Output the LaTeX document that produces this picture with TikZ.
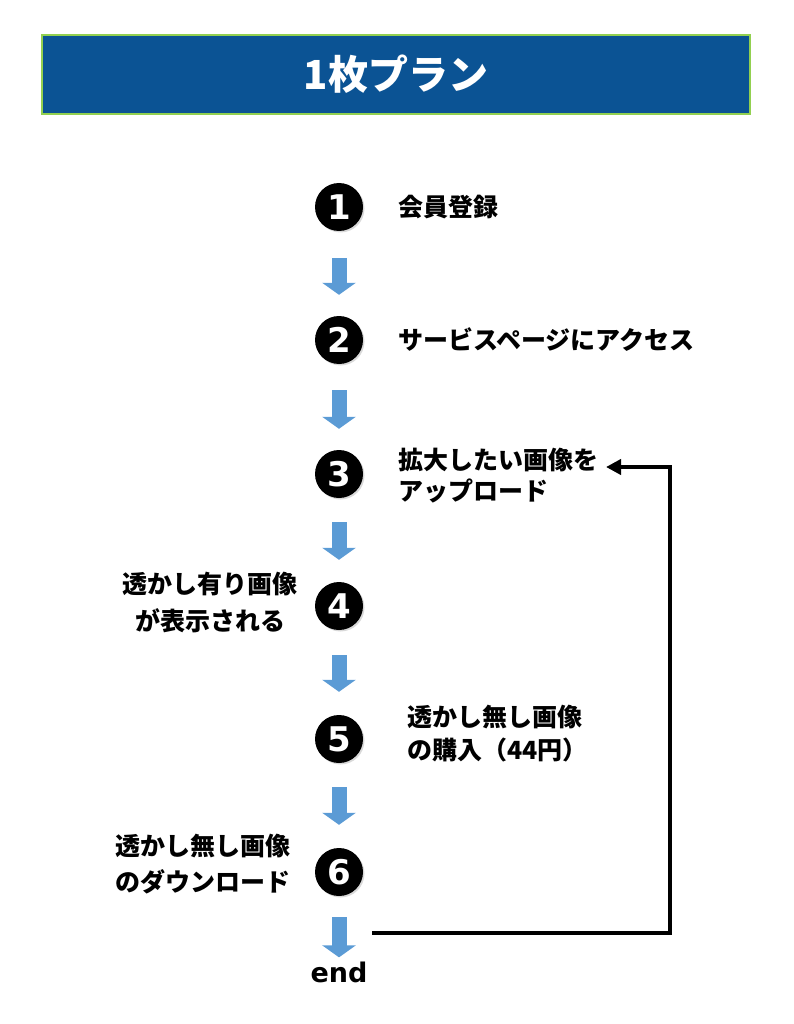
\documentclass[tikz,border=0pt]{standalone}
\usepackage{fontspec}
\setmainfont{Noto Sans CJK JP}
\newfontfamily\latinb{DejaVu Sans}
\usetikzlibrary{arrows.meta,shadows}
\definecolor{titleblue}{RGB}{11,83,148}
\definecolor{titlegreen}{RGB}{146,208,80}
\definecolor{flowblue}{RGB}{91,155,213}

\begin{document}
\begin{tikzpicture}[x=1pt,y=-1pt,
  num/.style={circle, fill=black, minimum size=48pt, inner sep=0pt, text=white,
    font=\latinb\bfseries\fontsize{34}{34}\selectfont,
    drop shadow={opacity=0.3, shadow xshift=1.5pt, shadow yshift=-1.5pt}},
  lab/.style={inner sep=0pt, font=\bfseries\fontsize{25}{31}\selectfont},
  flow/.style={line width=15pt, draw=flowblue, -{Triangle[length=12pt,width=33pt]}},
  back/.style={line width=4pt, -{Triangle[length=15pt,width=15pt]}}]
\useasboundingbox (0,0) rectangle (794,1024);

% title bar
\node [draw=titlegreen, line width=2pt, fill=titleblue, minimum width=708pt, minimum height=79pt,
  text=white, font=\bfseries\fontsize{40}{40}\selectfont] (title) at (396,74.5) {1枚プラン};

% steps
\node [num] (s1) at (339,207) {1};
\node [num] (s2) at (339,340) {2};
\node [num] (s3) at (339,474) {3};
\node [num] (s4) at (339,606) {4};
\node [num] (s5) at (339,739) {5};
\node [num] (s6) at (339,872) {6};
\node [inner sep=0pt, font=\latinb\bfseries\fontsize{27}{27}\selectfont] (fin) at (339,972) {end};

% labels
\node [lab, anchor=west] (t1) at (398,207) {会員登録};
\node [lab, anchor=west] (t2) at (398,340) {サービスページにアクセス};
\node [lab, anchor=west, align=left] (t3) at (398,476) {拡大したい画像を\\アップロード};
\node [lab, align=center, font=\bfseries\fontsize{25}{37}\selectfont] (t4) at (210,602) {透かし有り画像\\が表示される};
\node [lab, anchor=west, align=left, font=\bfseries\fontsize{25}{33}\selectfont] (t5) at (407,734) {透かし無し画像\\の購入（44円）};
\node [lab, anchor=west, align=left, font=\bfseries\fontsize{25}{36}\selectfont] (t6) at (115,864) {透かし無し画像\\のダウンロード};

% flow arrows
\draw [flow] ([yshift=-27pt]s1.south) -- ([yshift=21pt]s2.north);
\draw [flow] ([yshift=-26pt]s2.south) -- ([yshift=21pt]s3.north);
\draw [flow] ([yshift=-24pt]s3.south) -- ([yshift=22pt]s4.north);
\draw [flow] ([yshift=-25pt]s4.south) -- ([yshift=23pt]s5.north);
\draw [flow] ([yshift=-24pt]s5.south) -- ([yshift=23pt]s6.north);
\draw [flow] ([yshift=-21pt]s6.south) -- ([yshift=4pt]fin.north);

% back to step 3
\coordinate (loopout) at (372,933);
\coordinate (loopin) at (606,467);
\draw [back] (loopout) -- (670,933) |- (loopin);
\end{tikzpicture}
\end{document}
